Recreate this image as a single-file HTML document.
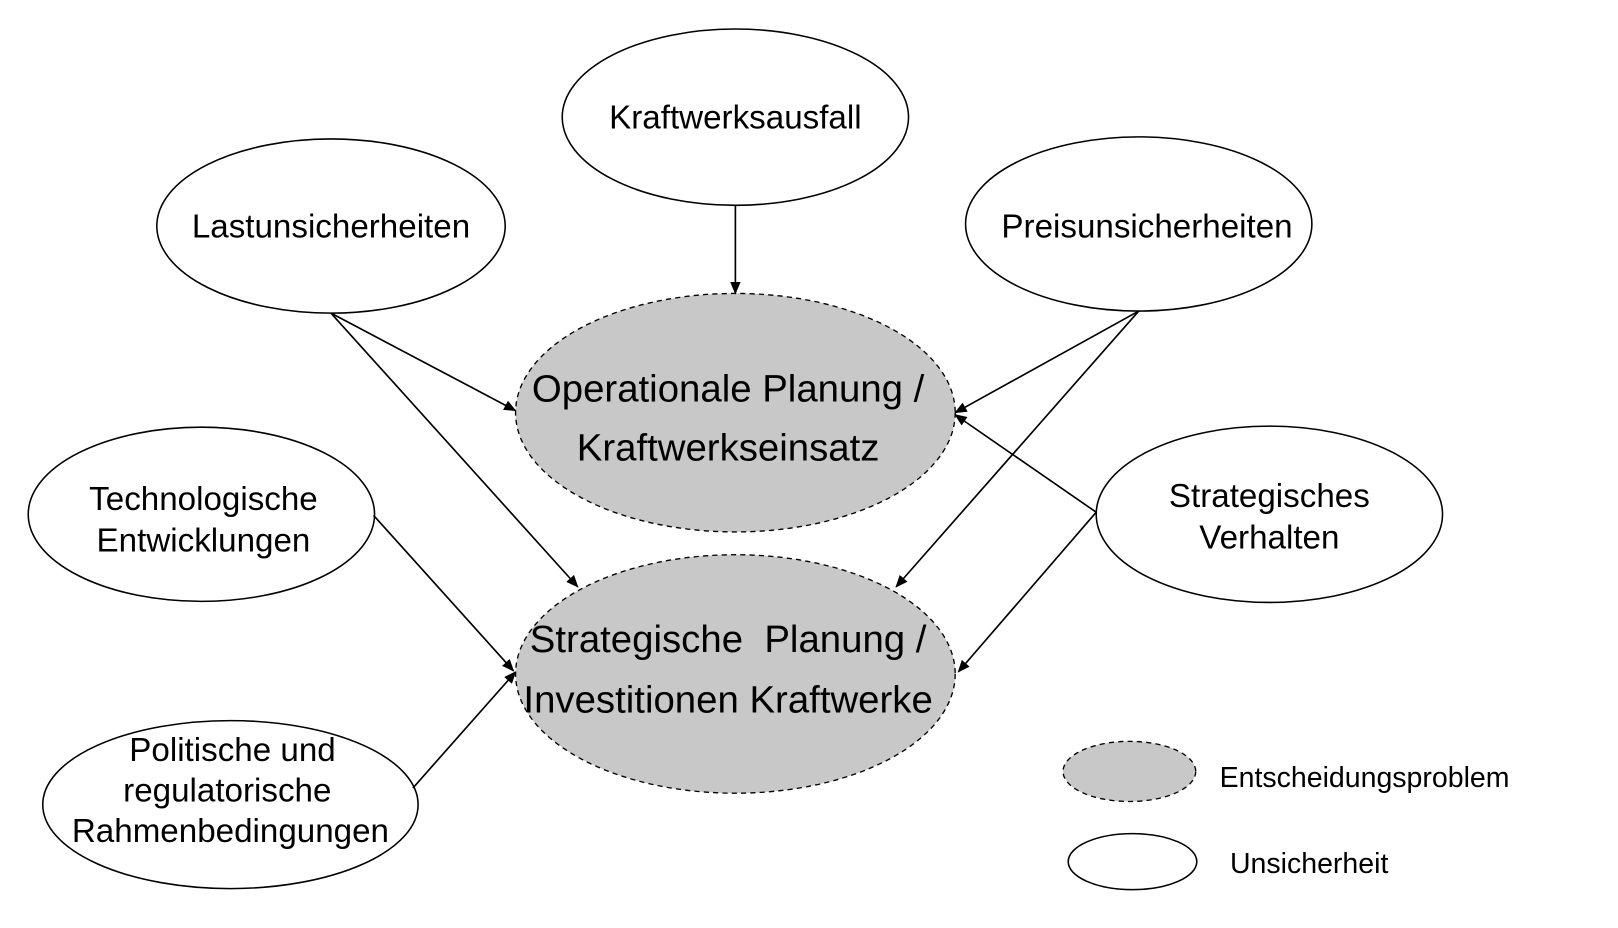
<!DOCTYPE html>
<html><head><meta charset="utf-8"><style>html,body{margin:0;padding:0;background:#fff}svg{display:block}</style></head><body>
<svg width="1618" height="928" viewBox="0 0 1560 895" xmlns="http://www.w3.org/2000/svg" font-family="Liberation Sans, sans-serif">
<defs><marker id="a" markerWidth="12" markerHeight="10" refX="11" refY="5" orient="auto" markerUnits="userSpaceOnUse"><path d="M0,0 L12,5 L0,10 z" fill="#000"/></marker></defs>
<g fill="#fff" stroke="#000" stroke-width="1.5">
<ellipse cx="709" cy="113" rx="167" ry="85"/>
<ellipse cx="319" cy="218" rx="168" ry="84"/>
<ellipse cx="1098" cy="216" rx="167" ry="84"/>
<ellipse cx="194" cy="496" rx="167" ry="84"/>
<ellipse cx="1224" cy="496" rx="167" ry="85"/>
<ellipse cx="222" cy="776" rx="181" ry="81"/>
<ellipse cx="1092" cy="831" rx="62" ry="27"/>
</g>
<g fill="#c8c8c8" stroke="#000" stroke-width="1.3" stroke-dasharray="5,4">
<ellipse cx="709" cy="398" rx="212" ry="115"/>
<ellipse cx="709" cy="650" rx="212" ry="115"/>
<ellipse cx="1089" cy="744" rx="64" ry="29"/>
</g>
<g stroke="#000" stroke-width="1.6" marker-end="url(#a)">
<line x1="709" y1="198" x2="709" y2="283"/>
<line x1="319" y1="302" x2="497" y2="396"/>
<line x1="319" y1="302" x2="557" y2="566"/>
<line x1="1098" y1="300" x2="921" y2="398"/>
<line x1="1098" y1="300" x2="864" y2="566"/>
<line x1="1057" y1="494" x2="921" y2="400"/>
<line x1="1057" y1="494" x2="924" y2="648"/>
<line x1="360" y1="497" x2="495" y2="647"/>
<line x1="398" y1="760" x2="497" y2="648"/>
</g>
<g font-size="32" text-anchor="middle" fill="#000">
<text x="709" y="124">Kraftwerksausfall</text>
<text x="319" y="229">Lastunsicherheiten</text>
<text x="1106" y="229">Preisunsicherheiten</text>
<text x="196" y="492">Technologische</text>
<text x="196" y="532">Entwicklungen</text>
<text x="1224" y="489">Strategisches</text>
<text x="1224" y="529">Verhalten</text>
<text x="224" y="734">Politische und</text>
<text x="219" y="773">regulatorische</text>
<text x="222" y="812">Rahmenbedingungen</text>
</g>
<g font-size="37" text-anchor="middle" fill="#000">
<text x="702" y="387">Operationale Planung /</text>
<text x="702" y="444">Kraftwerkseinsatz</text>
<text x="702" y="629" xml:space="preserve">Strategische  Planung /</text>
<text x="702" y="687">Investitionen Kraftwerke</text>
</g>
<g font-size="27.5" fill="#000">
<text x="1176" y="759">Entscheidungsproblem</text>
<text x="1186" y="842">Unsicherheit</text>
</g>
</svg>
</body></html>
